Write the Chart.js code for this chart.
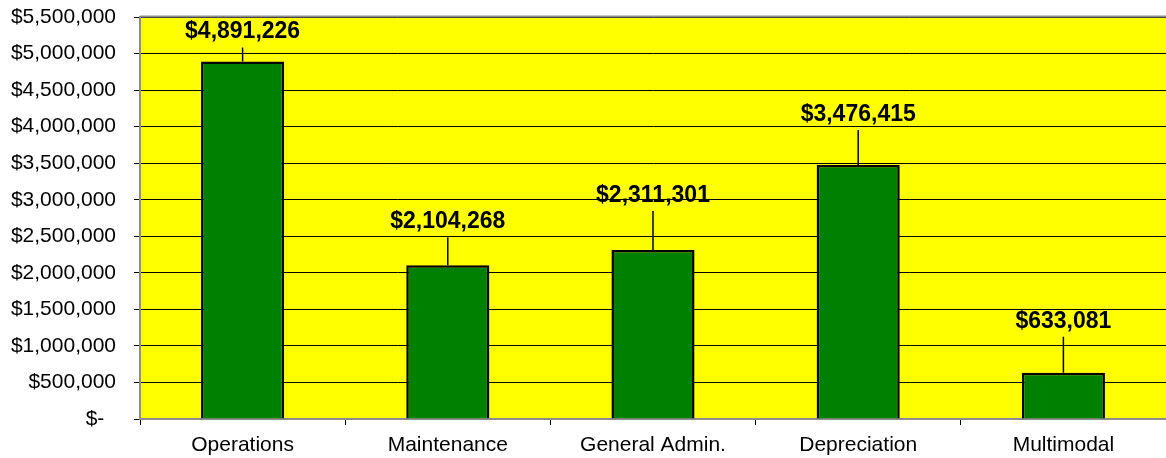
<!DOCTYPE html>
<html>
<head>
<meta charset="utf-8">
<script src="https://cdn.jsdelivr.net/npm/chart.js@4"></script>
<style>
  html, body { margin: 0; padding: 0; background: #ffffff; }
  #wrap { width: 1166px; height: 458px; position: relative; }
</style>
</head>
<body>
<div id="wrap"><canvas id="myChart"></canvas></div>
<script>
// data
const categories = ['Operations', 'Maintenance', 'General Admin.', 'Depreciation', 'Multimodal'];
const costs = [4891226, 2104268, 2311301, 3476415, 633081];
const yTicks = [0, 500000, 1000000, 1500000, 2000000, 2500000, 3000000, 3500000, 4000000, 4500000, 5000000, 5500000];

// leader line length above each bar (px), as in the original
const leaderLen = [14, 28, 39, 35, 36];

const money = v => '$' + Math.round(v).toLocaleString('en-US');

// yellow plot background + gray top border
const plotArea = {
    id: 'plotArea',
    beforeDraw(chart) {
        const { ctx, chartArea: a } = chart;
        ctx.save();
        ctx.fillStyle = '#ffffff';
        ctx.fillRect(0, 0, chart.width, chart.height);
        ctx.fillStyle = '#ffff00';
        ctx.fillRect(a.left, a.top, a.right - a.left, a.bottom - a.top);
        ctx.restore();
    },
    afterDraw(chart) {
        const { ctx, chartArea: a } = chart;
        ctx.save();
        ctx.strokeStyle = '#8c8c8c';
        ctx.lineWidth = 2;
        ctx.beginPath();
        ctx.moveTo(a.left, a.top - 0.5);
        ctx.lineTo(a.right, a.top - 0.5);
        ctx.stroke();
        ctx.restore();
    }
};

// value labels with leader lines
const valueLabels = {
    id: 'valueLabels',
    afterDatasetsDraw(chart) {
        const ctx = chart.ctx;
        const meta = chart.getDatasetMeta(0);
        ctx.save();
        ctx.strokeStyle = '#000000';
        ctx.lineWidth = 1.5;
        ctx.fillStyle = '#000000';
        ctx.font = 'bold 23px "Liberation Sans", Arial, sans-serif';
        ctx.textAlign = 'center';
        ctx.textBaseline = 'alphabetic';
        meta.data.forEach((bar, i) => {
            const top = bar.y;
            const lineTop = top - leaderLen[i];
            ctx.beginPath();
            ctx.moveTo(bar.x, top);
            ctx.lineTo(bar.x, lineTop);
            ctx.stroke();
            ctx.fillText(money(costs[i]), bar.x, lineTop - 9);
        });
        ctx.restore();
    }
};

const ctx = document.getElementById('myChart').getContext('2d');

new Chart(ctx, {
    type: 'bar',
    data: {
        labels: categories,
        datasets: [{
            label: 'Cost',
            data: costs,
            backgroundColor: '#008000',
            borderColor: '#000000',
            borderWidth: 2.5,
            categoryPercentage: 1.0,
            barPercentage: 0.405
        }]
    },
    options: {
        responsive: true,
        maintainAspectRatio: false,
        animation: false,
        layout: { padding: { top: 17, right: 0, left: 0, bottom: 0 } },
        scales: {
            x: {
                offset: true,
                grid: {
                    offset: true,
                    drawOnChartArea: false,
                    color: '#000000',
                    tickLength: 6
                },
                border: { color: '#8c8c8c', width: 2 },
                ticks: {
                    color: '#000000',
                    padding: 8,
                    font: { family: '"Liberation Sans", Arial, sans-serif', size: 21 }
                },
                afterFit(scale) { scale.height = 39; }
            },
            y: {
                min: 0,
                max: 5500000,
                afterBuildTicks(scale) { scale.ticks = yTicks.map(v => ({ value: v })); },
                grid: {
                    color: '#000000',
                    lineWidth: 1,
                    tickLength: 6
                },
                border: { color: '#8c8c8c', width: 2 },
                ticks: {
                    autoSkip: false,
                    color: '#000000',
                    padding: 18,
                    font: { family: '"Liberation Sans", Arial, sans-serif', size: 21 },
                    callback: v => v === 0 ? '$-  ' : money(v)
                },
                afterFit(scale) {
                    scale.width = 140;
                    scale.paddingTop = 0;
                    scale.paddingBottom = 0;
                }
            }
        },
        plugins: {
            legend: { display: false },
            tooltip: { enabled: false }
        }
    },
    plugins: [plotArea, valueLabels]
});
</script>
</body>
</html>
